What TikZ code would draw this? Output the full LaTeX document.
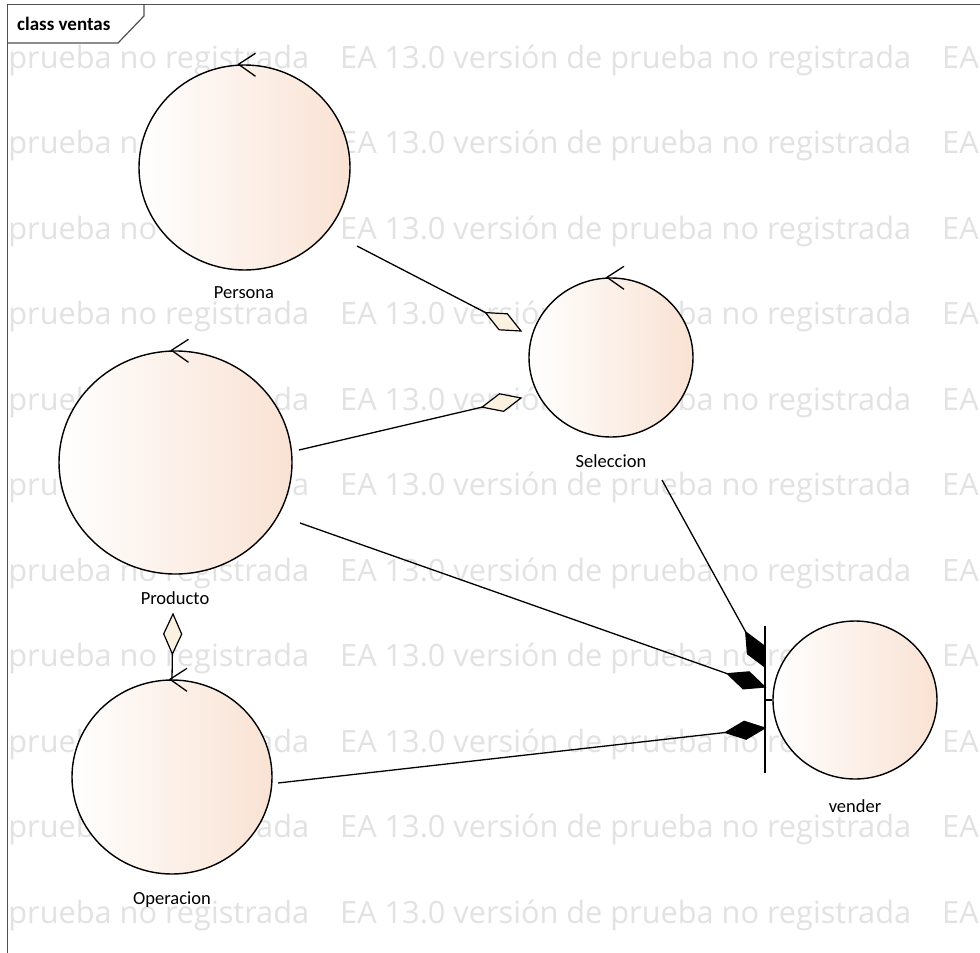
\documentclass[tikz,border=0pt]{standalone}
\usepackage{fontspec}
\setmainfont{Carlito}
\newfontfamily\wmfont{Open Sans}
\usetikzlibrary{shapes.geometric,calc}
\definecolor{peach}{RGB}{249,226,211}
\definecolor{cream}{RGB}{250,241,225}
\definecolor{wm}{RGB}{226,226,226}
\definecolor{framec}{RGB}{80,80,80}
\newcommand\assoc[3]{%
  \coordinate (aF) at ($(#2)!40pt!(#1)$);
  \coordinate (aM) at ($(#2)!20pt!(#1)$);
  \draw[conn] (#1) -- (aF);
  \draw[dia,fill=#3] (#2) -- ($(aM)!9pt!90:(#2)$) -- (aF) -- ($(aM)!9pt!-90:(#2)$) -- cycle;
}
\newcommand\ctlmark[2]{%
  \coordinate (cV) at ($(#1.north)+(#2,0)$);
  \draw[conn,line join=miter] ($(cV)+(17,-11)$) -- (cV) -- ($(cV)+(17,12)$);
}
\begin{document}
\begin{tikzpicture}[x=1pt,y=-1pt,
  ent/.style={ellipse,draw=black,line width=1.4pt,left color=white,right color=peach,inner sep=0pt},
  lbl/.style={font=\fontsize{18.5}{20}\selectfont,inner sep=0pt},
  conn/.style={line width=1.3pt,draw=black},
  dia/.style={line width=1.2pt,draw=black,line join=miter},
  wmtext/.style={font=\wmfont\fontsize{30.7}{32}\selectfont,text=wm,anchor=base west,inner sep=0pt}
]
\useasboundingbox (0,0) rectangle (980,953);
\fill[white] (0,0) rectangle (980,953);
\begin{scope}
\clip (0,0) rectangle (980,953);
\foreach \k in {0,...,10}{
  \foreach \j in {0,1,2}{
    \node[wmtext] (wm-\k-\j) at ({-262+602*\j},{68+85.5*\k}) {EA 13.0 versión de prueba no registrada};
  }
}
\end{scope}
% frame
\draw[framec,line width=1.4pt] (7.5,953) -- (7.5,4.5) -- (980,4.5);
\draw[framec,line width=1.2pt] (7.5,43) -- (118,43) -- (144,16) -- (144,4.5);
\node[font=\bfseries\fontsize{19}{20}\selectfont,anchor=west,inner sep=0pt] (title) at (17,24) {class ventas};
% classes
\node[ent,minimum width=211,minimum height=205] (persona) at (244.5,167.5) {};
\node[ent,minimum width=164,minimum height=159] (seleccion) at (611,357.5) {};
\node[ent,minimum width=233,minimum height=223] (producto) at (175.5,462.5) {};
\node[ent,minimum width=200,minimum height=194] (operacion) at (172,777) {};
\node[ent,minimum width=164,minimum height=158] (vender) at (855,700) {};
\ctlmark{persona}{-6}
\ctlmark{seleccion}{-4}
\ctlmark{producto}{-4}
\ctlmark{operacion}{-2}
% boundary bar
\coordinate (barT) at (765,626);
\coordinate (barB) at (765,773);
\draw[conn] (barT) -- (barB);
\draw[conn] (vender.west) -- (vender.west -| barT);
% labels
\node[lbl] (personaL) at (244,293) {Persona};
\node[lbl] (seleccionL) at (611,461) {Seleccion};
\node[lbl] (productoL) at (175,598) {Producto};
\node[lbl] (operacionL) at (172,900) {Operacion};
\node[lbl] (venderL) at (855,806) {vender};
% connector ends
\coordinate (s1) at (357,246);   \coordinate (t1) at (521,331);
\coordinate (s2) at (299,450);   \coordinate (t2) at (521,398);
\coordinate (s3) at (operacion.north); \coordinate (t3) at (173,614);
\coordinate (s4) at (662,480);   \coordinate (t4) at (765,667);
\coordinate (s5) at (300,523);   \coordinate (t5) at (765,687);
\coordinate (s6) at (278,783);   \coordinate (t6) at (765,728);
\assoc{s1}{t1}{cream}
\assoc{s2}{t2}{cream}
\assoc{s3}{t3}{cream}
\assoc{s4}{t4}{black}
\assoc{s5}{t5}{black}
\assoc{s6}{t6}{black}
\end{tikzpicture}
\end{document}
